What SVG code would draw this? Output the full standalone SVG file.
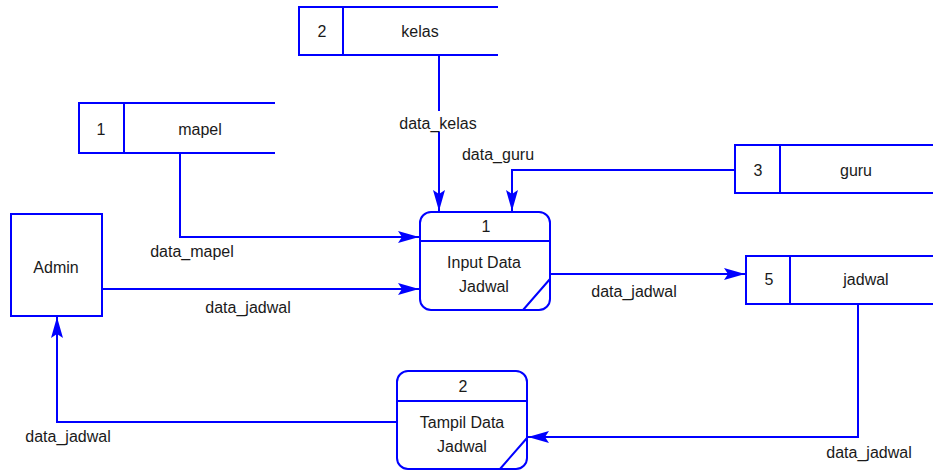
<svg xmlns="http://www.w3.org/2000/svg" width="935" height="470" viewBox="0 0 935 470">
<style>
.s{fill:none;stroke:#0000ff;stroke-width:2}
.b{fill:#ffffff;stroke:#0000ff;stroke-width:2}
text{font-family:"Liberation Sans",Arial,sans-serif;font-size:16px;fill:#1a1a1a;text-anchor:middle}
</style>
<defs>
<marker id="ah" markerUnits="userSpaceOnUse" markerWidth="24" markerHeight="14" viewBox="-22 -7 24 14" refX="0" refY="0" orient="auto">
<path d="M0,0 L-21,-6 L-17,0 L-21,6 Z" fill="#0000ff"/>
</marker>
</defs>
<rect width="935" height="470" fill="#ffffff"/>
<g id="connectors">
<path class="s" d="M439,55 V111 M439,132 V211" marker-end="url(#ah)"/>
<path class="s" d="M735,170 H512 V211" marker-end="url(#ah)"/>
<path class="s" d="M180,153 V237 H419" marker-end="url(#ah)"/>
<path class="s" d="M102,289 H419" marker-end="url(#ah)"/>
<path class="s" d="M550,274 H745" marker-end="url(#ah)"/>
<path class="s" d="M858,304 V437 H528" marker-end="url(#ah)"/>
<path class="s" d="M397,422 H57 V317" marker-end="url(#ah)"/>
<text x="438" y="129">data_kelas</text>
<text x="498" y="160">data_guru</text>
<text x="192" y="257">data_mapel</text>
<text x="248" y="313">data_jadwal</text>
<text x="634" y="297">data_jadwal</text>
<text x="68" y="442">data_jadwal</text>
<text x="869" y="458">data_jadwal</text>
</g>
<g id="admin">
<rect class="b" x="11" y="214" width="91" height="102"/>
<text x="56" y="273">Admin</text>
</g>
<g id="process1">
<rect class="b" x="420" y="212" width="130" height="98" rx="11"/>
<path class="s" d="M420,241 H550 M523,310 L550,279"/>
<text x="486" y="232">1</text>
<text x="484" y="268">Input Data</text>
<text x="484" y="292">Jadwal</text>
</g>
<g id="process2">
<rect class="b" x="397" y="371" width="130" height="98" rx="11"/>
<path class="s" d="M397,401 H527 M500,469 L527,438"/>
<text x="463" y="392">2</text>
<text x="462" y="428">Tampil Data</text>
<text x="462" y="452">Jadwal</text>
</g>
<g id="store-mapel">
<path class="s" d="M275,103 H79 V153 H275 M124,103 V153"/>
<text x="101" y="135">1</text>
<text x="200" y="135">mapel</text>
</g>
<g id="store-kelas">
<path class="s" d="M498,7 H299 V55 H498 M343,7 V55"/>
<text x="322" y="37">2</text>
<text x="420" y="37">kelas</text>
</g>
<g id="store-guru">
<path class="s" d="M933,145 H735 V193 H933 M780,145 V193"/>
<text x="758" y="176">3</text>
<text x="856" y="176">guru</text>
</g>
<g id="store-jadwal">
<path class="s" d="M933,256 H746 V304 H933 M790,256 V304"/>
<text x="769" y="285">5</text>
<text x="866" y="285">jadwal</text>
</g>
</svg>
